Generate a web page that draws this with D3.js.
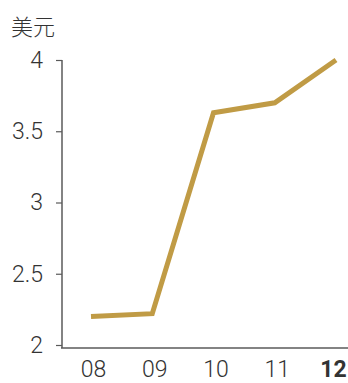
<!DOCTYPE html>
<html>
<head>
<meta charset="utf-8">
<script src="https://cdn.jsdelivr.net/npm/d3@7"></script>
<style>
  body { margin: 0; background: #fff; }
  svg { display: block; }
  text { font-family: Roboto, "Noto Sans", sans-serif; font-weight: 300; fill: #333; }
</style>
</head>
<body>
<svg id="chart"></svg>
<script>
// values
const years = ['08', '09', '10', '11', '12'];
const prices = [2.20, 2.22, 3.63, 3.70, 4.00];
const yTicks = [2, 2.5, 3, 3.5, 4];
const unitLabel = '美元';

const width = 348, height = 383;
const svg = d3.select('#chart').attr('width', width).attr('height', height);

const x = d3.scalePoint()
    .domain(years)
    .range([91, 336]);

const y = d3.scaleLinear()
    .domain([2, 4])
    .range([345, 60]);

const axisColor = '#5a5a5a';

// y axis
const gy = svg.append('g')
    .attr('transform', 'translate(62,0)')
    .call(d3.axisLeft(y).tickValues(yTicks).tickFormat(d3.format('~g')).tickSize(6).tickPadding(13));
gy.select('.domain').remove();
gy.selectAll('.tick line').attr('stroke', axisColor).attr('stroke-width', 1.2);
gy.selectAll('.tick text').attr('font-size', 23).attr('font-family', null).attr('fill', '#333');
gy.append('line')
    .attr('x1', 0).attr('x2', 0)
    .attr('y1', y(4)).attr('y2', 348)
    .attr('stroke', axisColor).attr('stroke-width', 1.5);

// x axis
const gx = svg.append('g')
    .attr('transform', 'translate(0,348)')
    .call(d3.axisBottom(x).tickSize(0).tickPadding(13));
gx.select('.domain').remove();
gx.append('line')
    .attr('x1', 61).attr('x2', width)
    .attr('stroke', axisColor).attr('stroke-width', 1.5);
gx.selectAll('.tick text')
    .attr('font-size', 23).attr('font-family', null).attr('fill', '#333')
    .attr('dx', (d, i) => i === years.length - 1 ? -3 : 2)
    .style('font-weight', (d, i) => i === years.length - 1 ? 700 : null);

// unit
svg.append('text')
    .attr('x', 11).attr('y', 35)
    .attr('font-size', 22)
    .style('font-family', '"Noto Sans CJK SC", sans-serif')
    .text(unitLabel);

// line
const line = d3.line()
    .x((d, i) => x(years[i]))
    .y(d => y(d));

svg.append('path')
    .datum(prices)
    .attr('fill', 'none')
    .attr('stroke', '#c09b45')
    .attr('stroke-width', 5)
    .attr('stroke-linejoin', 'miter')
    .attr('d', line);
</script>
</body>
</html>
